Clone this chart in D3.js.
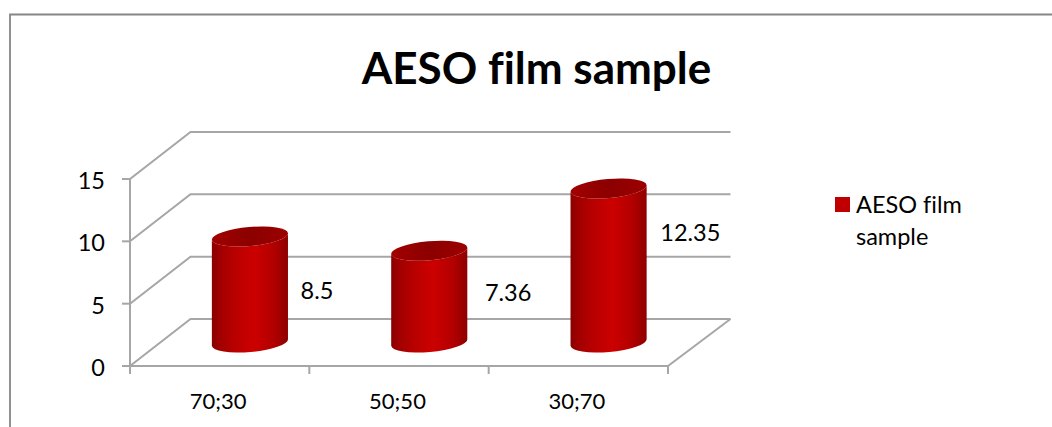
<!DOCTYPE html>
<html>
<head>
<meta charset="utf-8">
<script src="https://cdn.jsdelivr.net/npm/d3@7/dist/d3.min.js"></script>
<style>
html, body { margin: 0; padding: 0; background: #fff; }
svg { display: block; }
text { font-family: Lato, "Open Sans", sans-serif; fill: #000; font-variant-ligatures: none; }
</style>
</head>
<body>
<svg id="chart" width="1052" height="427"></svg>
<script>
const chartTitle = "AESO film sample";
const categories = ["70;30", "50;50", "30;70"];
const values = [8.5, 7.36, 12.35];
const valueTicks = [0, 5, 10, 15];
const legendLines = ["AESO film", "sample"];

const svg = d3.select("#chart");
const gridColor = "#a6a6a6";

// Front plane of the 3D box; the back wall sits up and to the right of it.
const x = d3.scaleBand().domain(categories).range([130, 668]).paddingInner(0).paddingOuter(0);
const y = d3.scaleLinear().domain([0, 15]).range([366, 179]);
const depth = { dx: 60.5, dy: -47 };

// Outer chart frame, cut off by the page at the bottom
svg.append("path")
  .attr("d", "M10,427V14.5H1052")
  .attr("fill", "none").attr("stroke", "#868686").attr("stroke-width", 1.8);

// Gradient across each cylinder
const defs = svg.append("defs");
const bodyGrad = defs.append("linearGradient").attr("id", "cylBody");
[[0, "#8a0000"], [0.1, "#a00000"], [0.3, "#b80000"], [0.55, "#cc0000"], [0.8, "#b40000"], [1, "#8e0000"]]
  .forEach(([o, c]) => bodyGrad.append("stop").attr("offset", o).attr("stop-color", c));
const capGrad = defs.append("linearGradient").attr("id", "cylCap");
[[0, "#a20000"], [0.5, "#8c0000"], [1, "#9c0000"]]
  .forEach(([o, c]) => capGrad.append("stop").attr("offset", o).attr("stop-color", c));

// Back wall gridlines and the diagonal side wall / floor edges
const walls = svg.append("g").attr("fill", "none").attr("stroke", gridColor).attr("stroke-width", 2);
valueTicks.forEach(t => {
  walls.append("path").attr("d", d3.line()([
    [130, y(t)],
    [130 + depth.dx, y(t) + depth.dy],
    [668 + depth.dx + 2, y(t) + depth.dy]
  ]));
});
walls.append("path").attr("d", d3.line()([[668, y(0)], [668 + depth.dx + 2, y(0) + depth.dy]]));

// Axes
const axisG = svg.append("g").attr("fill", "none").attr("stroke", gridColor).attr("stroke-width", 2);
axisG.append("path").attr("d", d3.line()([[130, y(15)], [130, y(0)], [668, y(0)]]));
valueTicks.forEach(t => {
  axisG.append("path").attr("d", d3.line()([[122, y(t)], [130, y(t)]]));
  svg.append("text").attr("x", 105).attr("y", y(t) + 1.5).attr("dy", "0.36em")
    .attr("text-anchor", "end").attr("font-size", 23.5).text(t);
});
const tickXs = categories.map(c => x(c)).concat([x.range()[1]]);
tickXs.forEach(tx => {
  axisG.append("path").attr("d", d3.line()([[tx, y(0)], [tx, y(0) + 8]]));
});
categories.forEach(c => {
  svg.append("text").attr("x", x(c) + x.bandwidth() / 2 - 1.5).attr("y", 401)
    .attr("dy", "0.36em").attr("text-anchor", "middle").attr("font-size", 22).text(c);
});

// Cylinders: base centred halfway into the depth of the box
const rx = 38.2, ry = 9.5, tilt = -5;
const rad = tilt * Math.PI / 180;
const ex = rx * Math.cos(rad), ey = rx * Math.sin(rad);
const baseY = y(0) + depth.dy / 2;
const pxPerUnit = y(0) - y(1);

// Hand placement of the value labels relative to each cylinder's midpoint
const labelShiftX = [0, 5, 1];
const labelShiftY = [1, -4, -33];

const bars = svg.append("g");
categories.forEach((c, i) => {
  const cx = x(c) + x.bandwidth() / 2 + depth.dx / 2;
  const topY = baseY - values[i] * pxPerUnit;
  const d = `M${cx + ex},${topY + ey}`
    + `L${cx + ex},${baseY + ey}`
    + `A${rx},${ry} ${tilt} 0 1 ${cx - ex},${baseY - ey}`
    + `L${cx - ex},${topY - ey}`
    + `A${rx},${ry} ${tilt} 0 0 ${cx + ex},${topY + ey}Z`;
  bars.append("path").attr("d", d).attr("fill", "url(#cylBody)");
  bars.append("ellipse")
    .attr("rx", rx).attr("ry", ry)
    .attr("transform", `translate(${cx},${topY}) rotate(${tilt})`)
    .attr("fill", "url(#cylCap)");
  svg.append("text")
    .attr("x", cx + rx + 12.5 + labelShiftX[i])
    .attr("y", (topY + baseY) / 2 + labelShiftY[i])
    .attr("dy", "0.36em").attr("font-size", 23.5).text(values[i]);
});

// Title
svg.append("text").attr("x", 536.5).attr("y", 68).attr("dy", "0.36em")
  .attr("text-anchor", "middle").attr("font-size", 44).attr("font-weight", 700).text(chartTitle);

// Legend
svg.append("rect").attr("x", 835).attr("y", 197).attr("width", 15).attr("height", 15).attr("fill", "#c00000");
legendLines.forEach((line, i) => {
  svg.append("text").attr("x", 856).attr("y", 205 + i * 32).attr("dy", "0.36em")
    .attr("font-size", 23.5).text(line);
});
</script>
</body>
</html>
